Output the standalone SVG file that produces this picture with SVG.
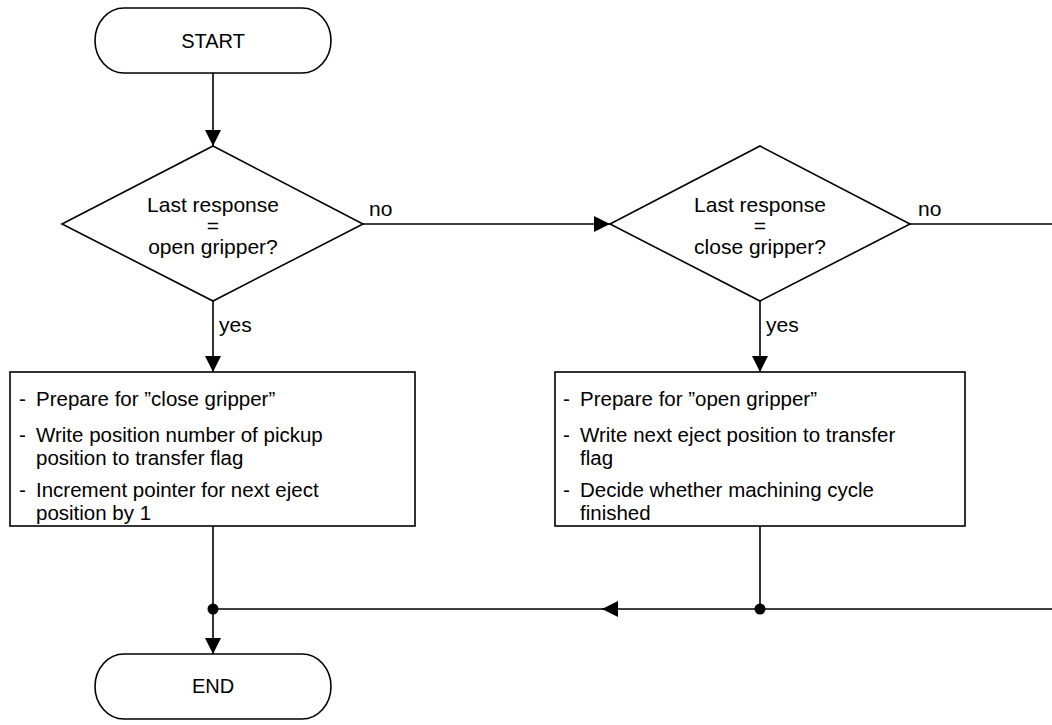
<svg xmlns="http://www.w3.org/2000/svg" width="1052" height="725" viewBox="0 0 1052 725">
<defs>
<marker id="arr" viewBox="0 0 10 10" refX="10" refY="5" markerWidth="16" markerHeight="16" markerUnits="userSpaceOnUse" orient="auto">
<path d="M0,0 L10,5 L0,10 Z" fill="#000"/>
</marker>
<style>
.s{fill:#fff;stroke:#000;stroke-width:1.6}
.l{fill:none;stroke:#000;stroke-width:1.6}
text{font-family:"Liberation Sans",Arial,sans-serif;font-size:21px;fill:#000}
.t{font-size:20px}
.b{font-size:20.5px}
.c{text-anchor:middle}
</style>
</defs>
<rect width="1052" height="725" fill="#fff"/>
<g id="connectors">
<path class="l" d="M213,73 V146" marker-end="url(#arr)"/>
<path class="l" d="M363,224 H610" marker-end="url(#arr)"/>
<path class="l" d="M910,224 H1052"/>
<path class="l" d="M213,301 V372" marker-end="url(#arr)"/>
<path class="l" d="M760,301 V372" marker-end="url(#arr)"/>
<path class="l" d="M213,526 V654" marker-end="url(#arr)"/>
<path class="l" d="M760,526 V609"/>
<path class="l" d="M1052,609 H602" marker-end="url(#arr)"/>
<path class="l" d="M610,609 H213"/>
<circle cx="213" cy="609" r="5.5" fill="#000"/>
<circle cx="760" cy="609" r="5.5" fill="#000"/>
<text x="369" y="216">no</text>
<text x="918" y="216">no</text>
<text x="219" y="332">yes</text>
<text x="766" y="332">yes</text>
</g>
<g id="start">
<path class="s" d="M124,8 H302 A29,32.5 0 0 1 302,73 H124 A29,32.5 0 0 1 124,8 Z"/>
<text class="c t" x="213" y="48">START</text>
</g>
<g id="decision1">
<path class="s" d="M213,146 L363,224 L213,301 L62,224 Z"/>
<text class="c" x="213" y="212">Last response</text>
<text class="c" x="213" y="233">=</text>
<text class="c" x="213" y="254">open gripper?</text>
</g>
<g id="decision2">
<path class="s" d="M760,146 L910,224 L760,301 L610,224 Z"/>
<text class="c" x="760" y="212">Last response</text>
<text class="c" x="760" y="233">=</text>
<text class="c" x="760" y="254">close gripper?</text>
</g>
<g id="box1">
<rect class="s" x="10" y="372" width="405" height="154"/>
<text class="b" x="19" y="406">-</text><text class="b" x="36" y="406">Prepare for ”close gripper”</text>
<text class="b" x="19" y="442">-</text><text class="b" x="36" y="442">Write position number of pickup</text>
<text class="b" x="36" y="465">position to transfer flag</text>
<text class="b" x="19" y="497">-</text><text class="b" x="36" y="497">Increment pointer for next eject</text>
<text class="b" x="36" y="520">position by 1</text>
</g>
<g id="box2">
<rect class="s" x="555" y="372" width="410" height="154"/>
<text class="b" x="563" y="406">-</text><text class="b" x="580" y="406">Prepare for ”open gripper”</text>
<text class="b" x="563" y="442">-</text><text class="b" x="580" y="442">Write next eject position to transfer</text>
<text class="b" x="580" y="465">flag</text>
<text class="b" x="563" y="497">-</text><text class="b" x="580" y="497">Decide whether machining cycle</text>
<text class="b" x="580" y="520">finished</text>
</g>
<g id="end">
<path class="s" d="M124,654 H302 A29,32.5 0 0 1 302,719 H124 A29,32.5 0 0 1 124,654 Z"/>
<text class="c t" x="213" y="693">END</text>
</g>
</svg>
